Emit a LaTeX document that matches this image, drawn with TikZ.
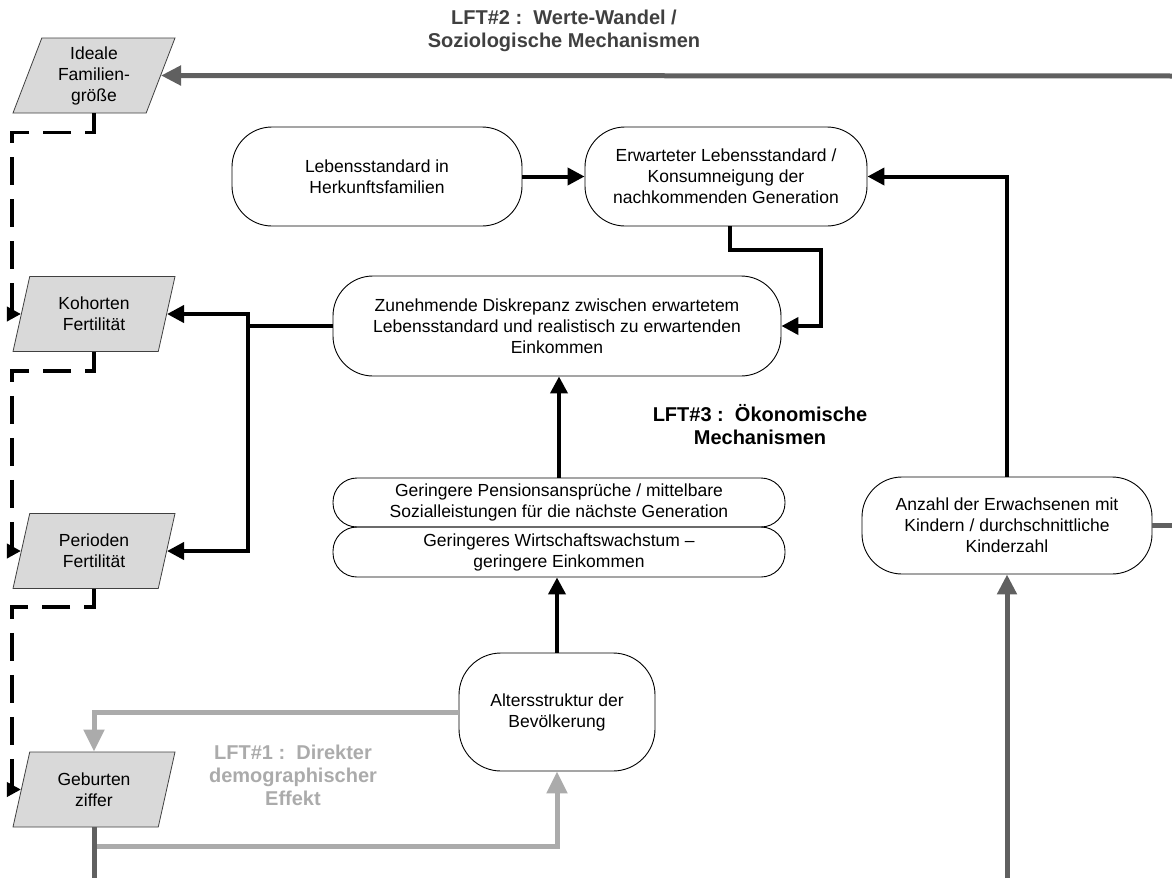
\documentclass[tikz,border=0pt]{standalone}
\usepackage{fontspec}
\setmainfont{Liberation Sans}
\usetikzlibrary{shapes.geometric,arrows.meta,calc}
\definecolor{dgray}{HTML}{606060}
\definecolor{lgray}{HTML}{ABABAB}
\definecolor{pfill}{HTML}{D9D9D9}
\definecolor{tgray}{HTML}{404040}
\begin{document}
\begin{tikzpicture}[x=1pt,y=-1pt,
  box/.style={draw=black, line width=0.9pt, rounded corners=#1, align=center, inner sep=0pt, font=\fontsize{17.5}{21}\selectfont},
  box/.default=40pt,
  para/.style={trapezium, trapezium left angle=63.7, trapezium right angle=116.3, trapezium stretches body, minimum width=162pt, minimum height=75pt, draw=tgray, line width=0.8pt, fill=pfill, align=center, inner sep=0pt, font=\fontsize{17.5}{21}\selectfont},
  lbl/.style={align=center, font=\fontsize{20}{23}\selectfont\bfseries, inner sep=0pt},
  blk/.style={draw=black, line width=4pt, -{Triangle[length=17pt,width=17pt]}},
  blkline/.style={draw=black, line width=4pt},
  dsh/.style={draw=black, line width=3.5pt, dash pattern=on 28pt off 14pt, -{Triangle[length=14pt,width=14pt]}},
  dga/.style={draw=dgray, line width=5pt, -{Triangle[length=20pt,width=19pt]}},
  dgl/.style={draw=dgray, line width=5pt},
  lga/.style={draw=lgray, line width=5pt, -{Triangle[length=22pt,width=20pt]}},
]
\useasboundingbox (0,0) rectangle (1172,878);

% labels
\node[lbl, text=tgray] (lft2) at (564,31) {LFT\#2 :~~Werte-Wandel /\\Soziologische Mechanismen};
\node[lbl, text=black] (lft3) at (760,425) {LFT\#3 :~~Ökonomische\\Mechanismen};
\node[lbl, text=lgray] (lft1) at (293,775) {LFT\#1 :~~Direkter\\demographischer\\Effekt};

% parallelograms
\node[para] (ideal) at (94,75.5) {Ideale\\Familien-\\größe};
\node[para] (koh) at (94,314) {Kohorten\\Fertilität};
\node[para] (per) at (94,551) {Perioden\\Fertilität};
\node[para] (geb) at (94,789.5) {Geburten\\ziffer};

% side midpoints of the parallelograms
\coordinate (idealR) at ($(ideal.bottom right corner)!0.5!(ideal.top right corner)$);
\coordinate (kohR) at ($(koh.bottom right corner)!0.5!(koh.top right corner)$);
\coordinate (kohL) at ($(koh.bottom left corner)!0.5!(koh.top left corner)$);
\coordinate (perR) at ($(per.bottom right corner)!0.5!(per.top right corner)$);
\coordinate (perL) at ($(per.bottom left corner)!0.5!(per.top left corner)$);
\coordinate (gebL) at ($(geb.bottom left corner)!0.5!(geb.top left corner)$);
\coordinate (dl) at (12,0);

% boxes
\node[box, minimum width=290pt, minimum height=99pt] (leben) at (377,176.5) {Lebensstandard in\\Herkunftsfamilien};
\node[box, minimum width=282pt, minimum height=99pt] (erw) at (726,176.5) {Erwarteter Lebensstandard /\\Konsumneigung der\\nachkommenden Generation};
\node[box, minimum width=448pt, minimum height=100pt] (zun) at (557,326) {Zunehmende Diskrepanz zwischen erwartetem\\Lebensstandard und realistisch zu erwartenden\\Einkommen};
\node[box=24pt, minimum width=452pt, minimum height=49pt] (pens) at (559,502.5) {Geringere Pensionsansprüche / mittelbare\\Sozialleistungen für die nächste Generation};
\node[box=24pt, minimum width=452pt, minimum height=50pt] (wirt) at (559,552) {Geringeres Wirtschaftswachstum --\\geringere Einkommen};
\node[box=42pt, minimum width=196pt, minimum height=118pt] (alter) at (557,712) {Altersstruktur der\\Bevölkerung};
\node[box, minimum width=290pt, minimum height=97pt] (anz) at (1007,525.5) {Anzahl der Erwachsenen mit\\Kindern / durchschnittliche\\Kinderzahl};

% free ends at the picture border
\coordinate (rtop) at (1172,76);
\coordinate (rmid) at (1172,525.5);
\coordinate (anzbot) at (1007,878);
\coordinate (gebbot) at (94,878);
\coordinate (br) at ([xshift=-85pt]zun.west);

% dark gray connectors
\draw[dga] (rtop) -- (idealR);
\draw[dgl] (anz.east) -- (rmid);
\draw[dga] (anzbot) -- (anz.south);

% light gray connectors
\draw[lga] ([yshift=-19pt]geb.center|-geb.south) -| (alter.south);
\draw[lga] (alter.west) -| (geb.center|-geb.north);
\draw[dgl] (geb.center|-geb.south) -- (gebbot);

% black connectors
\draw[blk] (leben.east) -- (erw.west);
\draw[blk] (anz.north) |- (erw.east);
\draw[blk] ([xshift=4pt]erw.south) -- ++(0,24) -| ([xshift=40pt]zun.east) -- (zun.east);
\draw[blk] (pens.north) -- (pens.north|-zun.south);
\draw[blk] (alter.north) -- (alter.north|-wirt.south);
\draw[blkline] (zun.west) -- (br);
\draw[blk] (br) |- (kohR);
\draw[blk] (br) |- (perR);

% dashed connectors
\draw[dsh] (ideal.center|-ideal.south) -- ++(0,19) -| (dl|-kohL) -- (kohL);
\draw[dsh] (koh.center|-koh.south) -- ++(0,19) -| (dl|-perL) -- (perL);
\draw[dsh] (per.center|-per.south) -- ++(0,18) -| (dl|-gebL) -- (gebL);
\end{tikzpicture}
\end{document}
